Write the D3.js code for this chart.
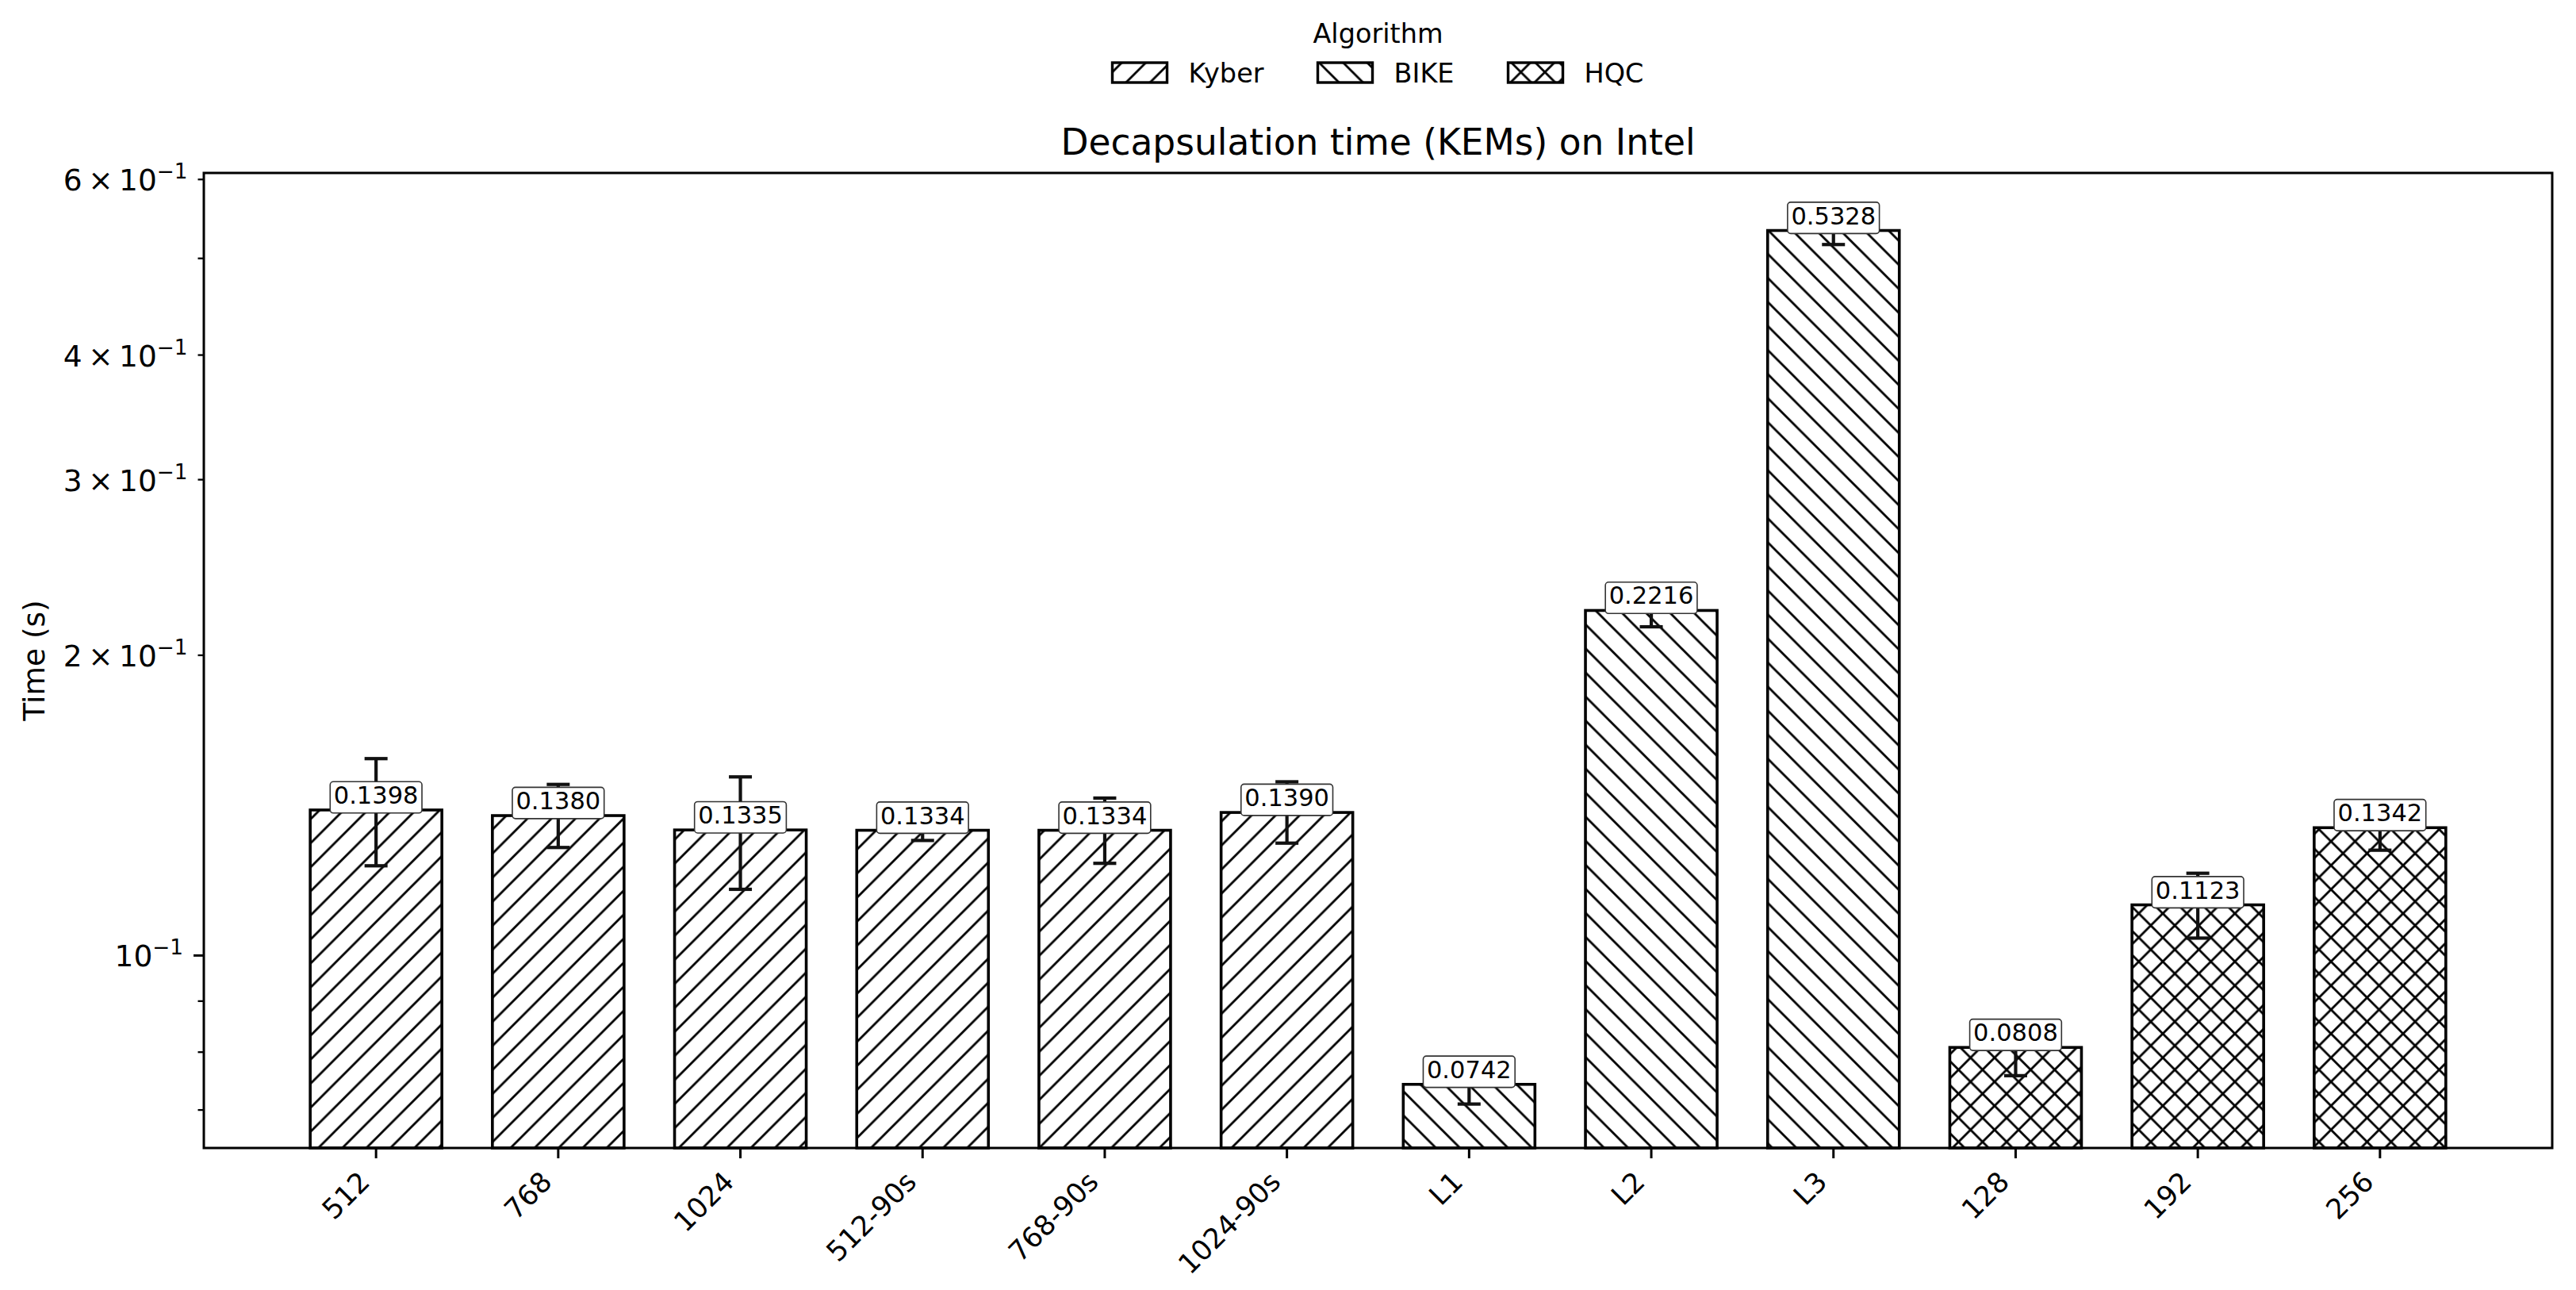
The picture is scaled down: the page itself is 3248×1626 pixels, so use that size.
<!DOCTYPE html>
<html><head><meta charset="utf-8">
<script src="https://cdn.jsdelivr.net/npm/d3@7"></script>
<style>
body{margin:0;background:#fff}
svg{display:block}
text{font-family:"DejaVu Sans",sans-serif;fill:#000}
</style>
</head><body><svg id="chart" width="3248" height="1626"></svg>
<script>
// ---------------- data ----------------
const categories = ["512","768","1024","512-90s","768-90s","1024-90s","L1","L2","L3","128","192","256"];
const algorithms = ["Kyber","Kyber","Kyber","Kyber","Kyber","Kyber","BIKE","BIKE","BIKE","HQC","HQC","HQC"];
const values  = [0.1398,0.1380,0.1335,0.1334,0.1334,0.1390,0.0742,0.2216,0.5328,0.0808,0.1123,0.1342];
const errLow  = [0.1229,0.1282,0.1164,0.1303,0.1236,0.1295,0.0709,0.2134,0.5158,0.0757,0.1040,0.1274];
const errHigh = [0.1574,0.1483,0.1509,0.1352,0.1437,0.1492,0.0760,0.2260,0.5420,0.0835,0.1208,0.1365];
const legendAlgorithms = ["Kyber","BIKE","HQC"];
const yMajorTicks = [0.1];
const yMinorTicks = [0.07,0.08,0.09,0.2,0.3,0.4,0.5,0.6];
const yTickLabels = [0.1,0.2,0.3,0.4,0.6];
const yDomain = [0.06406,0.6085];
const titleText = "Decapsulation time (KEMs) on Intel";
const yLabelText = "Time (s)";
const legendTitle = "Algorithm";

// ---------------- layout ----------------
const W = 3248, H = 1626;
const P = {left:257, right:3218, top:218, bottom:1447};
const svg = d3.select("#chart");
svg.append("rect").attr("width",W).attr("height",H).attr("fill","#fff");

const x = d3.scaleBand().domain(categories).range([P.left,P.right])
  .paddingInner(0.2773).paddingOuter(0.584);
const y = d3.scaleLog().domain(yDomain).range([P.bottom,P.top]);

// ---------------- hatch patterns ----------------
const S = 30.3, HW = 2.8;
const defs = svg.append("defs");
const hatchPaths = {
  "/":  `M0,${S} L${S},0 M${-S/2},${S/2} L${S/2},${-S/2} M${S/2},${1.5*S} L${1.5*S},${S/2}`,
  "\\": `M0,0 L${S},${S} M${-S/2},${S/2} L${S/2},${1.5*S} M${S/2},${-S/2} L${1.5*S},${S/2}`
};
const hatchOf = {Kyber:["/"], BIKE:["\\"], HQC:["/","\\"]};
legendAlgorithms.forEach(a=>{
  const p = defs.append("pattern").attr("id","hatch-"+a)
    .attr("patternUnits","userSpaceOnUse").attr("width",S).attr("height",S);
  p.append("rect").attr("width",S).attr("height",S).attr("fill","#fff");
  hatchOf[a].forEach(h=>p.append("path").attr("d",hatchPaths[h])
    .attr("stroke","#000").attr("stroke-width",HW).attr("fill","none"));
});

const data = categories.map((c,i)=>({c, a:algorithms[i], v:values[i], lo:errLow[i], hi:errHigh[i]}));

// ---------------- bars ----------------
svg.append("g").selectAll("rect").data(data).join("rect")
  .attr("x",d=>x(d.c)).attr("width",x.bandwidth())
  .attr("y",d=>y(d.v)).attr("height",d=>P.bottom-y(d.v))
  .attr("fill",d=>`url(#hatch-${d.a})`)
  .attr("stroke","#000").attr("stroke-width",3.6);

// ---------------- error bars ----------------
const cap = 14.5;
const eg = svg.append("g").attr("stroke","#111").attr("stroke-width",4.2).attr("fill","none");
data.forEach(d=>{
  const cx = x(d.c)+x.bandwidth()/2;
  eg.append("line").attr("x1",cx).attr("x2",cx).attr("y1",y(d.lo)).attr("y2",y(d.hi));
  eg.append("line").attr("x1",cx-cap).attr("x2",cx+cap).attr("y1",y(d.lo)).attr("y2",y(d.lo));
  eg.append("line").attr("x1",cx-cap).attr("x2",cx+cap).attr("y1",y(d.hi)).attr("y2",y(d.hi));
});

// ---------------- value labels ----------------
const LFS = 30.5, pad = 4.5;
const lg = svg.append("g");
data.forEach(d=>{
  const cx = x(d.c)+x.bandwidth()/2;
  const base = y(d.v) - 8;
  const g = lg.append("g");
  const r = g.append("rect");
  const t = g.append("text").attr("x",cx).attr("y",base).attr("text-anchor","middle")
    .attr("font-size",LFS).text(d.v.toFixed(4));
  const w = t.node().getComputedTextLength();
  r.attr("x",cx-w/2-pad).attr("width",w+2*pad)
   .attr("y",base-0.76*LFS-pad).attr("height",LFS+2*pad)
   .attr("rx",4).attr("fill","#fff").attr("stroke","#333").attr("stroke-width",1.6);
});

// ---------------- axes ----------------
const xa = svg.append("g").attr("transform",`translate(0,${P.bottom})`)
  .call(d3.axisBottom(x).tickSize(13).tickSizeOuter(0).tickFormat(""));
xa.select(".domain").remove();
xa.selectAll(".tick line").attr("stroke","#000").attr("stroke-width",3);

const XFS = 35, xa0 = P.bottom + 26;
svg.append("g").selectAll("text").data(categories).join("text")
  .attr("font-size",XFS).attr("text-anchor","end")
  .attr("transform",c=>{
    const tx = x(c)+x.bandwidth()/2 - 0.707*0.24*XFS;
    const ty = xa0 + 0.707*0.76*XFS;
    return `translate(${tx},${ty}) rotate(-45)`;
  }).text(c=>c);

const yMinor = svg.append("g").attr("transform",`translate(${P.left},0)`)
  .call(d3.axisLeft(y).tickValues(yMinorTicks).tickSize(7.5).tickFormat(""));
yMinor.select(".domain").remove();
yMinor.selectAll(".tick line").attr("stroke","#000").attr("stroke-width",2.3);
const yMajor = svg.append("g").attr("transform",`translate(${P.left},0)`)
  .call(d3.axisLeft(y).tickValues(yMajorTicks).tickSize(13).tickFormat(""));
yMajor.select(".domain").remove();
yMajor.selectAll(".tick line").attr("stroke","#000").attr("stroke-width",3);

const YFS = 37.5;
yTickLabels.forEach(v=>{
  const isMajor = yMajorTicks.includes(v);
  const xr = P.left - (isMajor?13:7.5) - 13;
  const m = Math.round(v/0.1);
  const t = svg.append("text").attr("x",xr).attr("y",y(v)+14.5)
    .attr("text-anchor","end").attr("font-size",YFS);
  t.append("tspan").text(m===1 ? "10" : `${m}\u2009×\u200910`);
  t.append("tspan").attr("font-size",YFS*0.7).attr("dy",-0.4*YFS).text("\u22121");
});

// frame
svg.append("rect").attr("x",P.left).attr("y",P.top)
  .attr("width",P.right-P.left).attr("height",P.bottom-P.top)
  .attr("fill","none").attr("stroke","#000").attr("stroke-width",3);

// y label
svg.append("text").attr("transform",`translate(56,${(P.top+P.bottom)/2}) rotate(-90)`)
  .attr("text-anchor","middle").attr("font-size",37.5).text(yLabelText);

// title
const cxAxes = (P.left+P.right)/2;
svg.append("text").attr("x",cxAxes).attr("y",195).attr("text-anchor","middle")
  .attr("font-size",45.5).text(titleText);

// ---------------- legend ----------------
const LGFS = 33.5;
svg.append("text").attr("x",cxAxes).attr("y",54).attr("text-anchor","middle")
  .attr("font-size",LGFS).text(legendTitle);
const hw = 69, hh = 25, tpad = 27, colsp = 68;
const leg = svg.append("g");
let cur = 0;
legendAlgorithms.forEach(a=>{
  const g = leg.append("g");
  g.append("rect").attr("x",cur).attr("y",79).attr("width",hw).attr("height",hh)
    .attr("fill",`url(#hatch-${a})`).attr("stroke","#000").attr("stroke-width",3.4);
  const t = g.append("text").attr("x",cur+hw+tpad).attr("y",104).attr("font-size",LGFS).text(a);
  const w = t.node().getComputedTextLength();
  cur += hw + tpad + w + colsp;
});
const total = cur - colsp;
leg.attr("transform",`translate(${cxAxes-total/2},0)`);
</script>
</body></html>
